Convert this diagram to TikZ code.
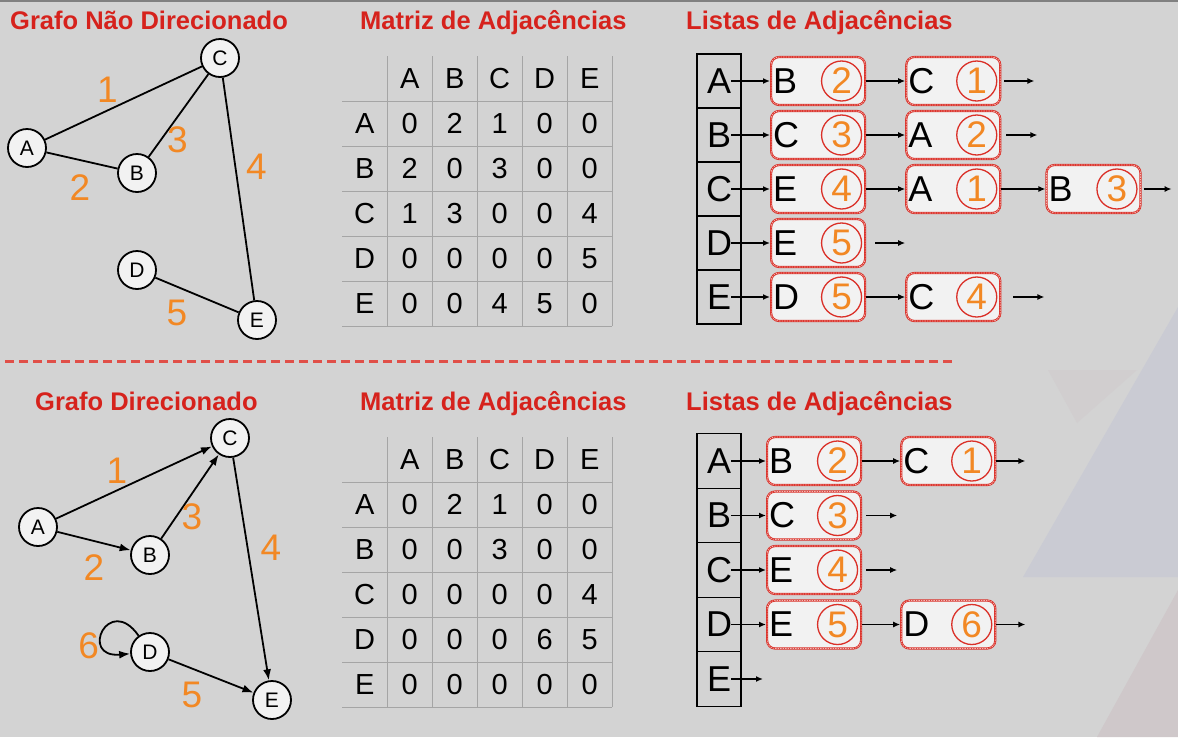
\documentclass[tikz,border=0pt]{standalone}
\usepackage{fontspec}
\setmainfont{Liberation Sans}
\usetikzlibrary{positioning,arrows.meta,matrix}

\definecolor{titlered}{RGB}{214,34,28}
\definecolor{numorange}{RGB}{242,136,36}
\definecolor{slidegray}{RGB}{211,211,211}
\definecolor{boxred}{RGB}{218,48,40}
\definecolor{gridgray}{RGB}{165,165,165}
\definecolor{nodefill}{RGB}{242,242,242}
\definecolor{decoblue}{RGB}{202,203,211}
\definecolor{decopink}{RGB}{207,200,202}

\begin{document}
\begin{tikzpicture}[x=1pt,y=-1pt,
    vertex/.style={circle,draw,line width=1.8pt,fill=nodefill,minimum size=38pt,inner sep=0pt,font=\fontsize{21}{21}\selectfont},
    wlabel/.style={text=numorange,font=\fontsize{37}{37}\selectfont},
    heading/.style={text=titlered,font=\bfseries\fontsize{25.5}{25.5}\selectfont,anchor=base west,inner sep=0pt},
    mcell/.style={minimum width=45pt,minimum height=45pt,inner sep=0pt,anchor=center,font=\fontsize{29}{29}\selectfont},
    gridline/.style={draw=gridgray,line width=1pt},
    headbox/.style={draw,line width=1.4pt,minimum width=44pt,minimum height=54pt,inner sep=0pt,outer sep=0pt,font=\fontsize{36}{36}\selectfont},
    listbox/.style={rounded corners=8pt,fill=nodefill,draw=boxred,line width=2.2pt,minimum height=48pt,
                    text width=90pt,inner xsep=2pt,inner ysep=0pt,align=left,font=\fontsize{36}{36}\selectfont,
                    postaction={draw=boxred!35!white,line width=0.7pt,dash pattern=on 1.5pt off 1pt}},
    numcirc/.style={circle,draw=boxred,line width=1.3pt,minimum size=40pt,inner sep=0pt,text=numorange,font=\fontsize{37}{37}\selectfont},
    garr/.style={-{Latex[length=11pt,width=8pt]},line width=1.8pt},
    larr/.style={-{Latex[length=7pt,width=6pt]},line width=1.5pt}]

  % slide background
  \useasboundingbox (0,0) rectangle (1178,737);
  \fill[slidegray] (0,0) rectangle (1178,737);
  \fill[gray] (0,0) rectangle (1178,2);
  \fill[decoblue] (1023,577) -- (1178,307) -- (1178,577) -- cycle;
  \fill[decopink!50!slidegray] (1048,370) -- (1137,370) -- (1077,423) -- cycle;
  \fill[decopink] (1097,737) -- (1178,590) -- (1178,737) -- cycle;

  % headings
  \node[heading] (t1) at (10,29) {Grafo Não Direcionado};
  \node[heading] (t2) at (360,29) {Matriz de Adjacências};
  \node[heading] (t3) at (686,29) {Listas de Adjacências};
  \node[heading] (t4) at (35,410) {Grafo Direcionado};
  \node[heading] (t5) at (360,410) {Matriz de Adjacências};
  \node[heading] (t6) at (686,410) {Listas de Adjacências};

  \draw[boxred!85!white,line width=3pt,dash pattern=on 9pt off 5pt] (5,361) -- (955,361);

  % undirected graph
  \node[vertex] (uA) at (27,148) {A};
  \node[vertex] (uB) at (137,173) {B};
  \node[vertex] (uC) at (220,58) {C};
  \node[vertex] (uD) at (137,270) {D};
  \node[vertex] (uE) at (257,320) {E};

  \path[line width=1.8pt]
    (uA) edge node[wlabel,xshift=-16pt,yshift=13pt] {1} (uC)
         edge node[wlabel,xshift=-2pt,yshift=-27pt] {2} (uB)
    (uB) edge node[wlabel,xshift=-1pt,yshift=-24pt] {3} (uC)
    (uC) edge node[wlabel,xshift=18pt,yshift=22pt] {4} (uE)
    (uD) edge node[wlabel,xshift=-20pt,yshift=-18pt] {5} (uE);

  % directed graph
  \node[vertex] (dA) at (38,527) {A};
  \node[vertex] (dB) at (150,555) {B};
  \node[vertex] (dC) at (230,438) {C};
  \node[vertex] (dD) at (150,652) {D};
  \node[vertex] (dE) at (272,700) {E};

  \path[garr]
    (dA) edge node[wlabel,xshift=-17pt,yshift=12pt] {1} (dC)
         edge node[wlabel,xshift=0pt,yshift=-27pt] {2} (dB)
    (dB) edge node[wlabel,xshift=2pt,yshift=-20pt] {3} (dC)
    (dC) edge node[wlabel,xshift=20pt,yshift=21pt] {4} (dE)
    (dD) edge node[wlabel,xshift=-19pt,yshift=-19pt] {5} (dE)
         edge[out=125,in=185,min distance=52pt] node[wlabel,xshift=-15pt,yshift=-15pt] {6} (dD);

  % adjacency matrices
  \matrix (mU) [matrix of nodes,anchor=north west,inner sep=0pt,nodes={mcell},column sep=0pt,row sep=0pt] at (342,56) {
      & A & B & C & D & E \\
    A & 0 & 2 & 1 & 0 & 0 \\
    B & 2 & 0 & 3 & 0 & 0 \\
    C & 1 & 3 & 0 & 0 & 4 \\
    D & 0 & 0 & 0 & 0 & 5 \\
    E & 0 & 0 & 4 & 5 & 0 \\
  };
  \matrix (mD) [matrix of nodes,anchor=north west,inner sep=0pt,nodes={mcell},column sep=0pt,row sep=0pt] at (342,437) {
      & A & B & C & D & E \\
    A & 0 & 2 & 1 & 0 & 0 \\
    B & 0 & 0 & 3 & 0 & 0 \\
    C & 0 & 0 & 0 & 0 & 4 \\
    D & 0 & 0 & 0 & 6 & 5 \\
    E & 0 & 0 & 0 & 0 & 0 \\
  };
  \foreach \k in {0,...,5} {
    \draw[gridline] (387+45*\k,56) -- (387+45*\k,326);
    \draw[gridline] (342,101+45*\k) -- (612,101+45*\k);
    \draw[gridline] (387+45*\k,437) -- (387+45*\k,707);
    \draw[gridline] (342,482+45*\k) -- (612,482+45*\k);
  }

  % adjacency lists, undirected
  \node[headbox] (uhA) at (719,81) {A};
  \node[headbox,below=0pt of uhA] (uhB) {B};
  \node[headbox,below=0pt of uhB] (uhC) {C};
  \node[headbox,below=0pt of uhC] (uhD) {D};
  \node[headbox,below=0pt of uhD] (uhE) {E};

  \node[listbox,right=29pt of uhA] (ueA1) {B};
  \node[numcirc,left=4pt of ueA1.east] (unA1) {2};
  \node[listbox,right=39pt of ueA1] (ueA2) {C};
  \node[numcirc,left=4pt of ueA2.east] (unA2) {1};

  \node[listbox,right=29pt of uhB] (ueB1) {C};
  \node[numcirc,left=4pt of ueB1.east] (unB1) {3};
  \node[listbox,right=39pt of ueB1] (ueB2) {A};
  \node[numcirc,left=4pt of ueB2.east] (unB2) {2};

  \node[listbox,right=29pt of uhC] (ueC1) {E};
  \node[numcirc,left=4pt of ueC1.east] (unC1) {4};
  \node[listbox,right=39pt of ueC1] (ueC2) {A};
  \node[numcirc,left=4pt of ueC2.east] (unC2) {1};
  \node[listbox,right=44pt of ueC2] (ueC3) {B};
  \node[numcirc,left=4pt of ueC3.east] (unC3) {3};

  \node[listbox,right=29pt of uhD] (ueD1) {E};
  \node[numcirc,left=4pt of ueD1.east] (unD1) {5};

  \node[listbox,right=29pt of uhE] (ueE1) {D};
  \node[numcirc,left=4pt of ueE1.east] (unE1) {5};
  \node[listbox,right=39pt of ueE1] (ueE2) {C};
  \node[numcirc,left=4pt of ueE2.east] (unE2) {4};

  \coordinate[right=33pt of ueA2] (utA);
  \coordinate[right=36pt of ueB2] (utB);
  \coordinate[right=30pt of ueC3] (utC);
  \coordinate[right=39pt of ueD1] (utD);
  \coordinate[right=43pt of ueE2] (utE);

  \draw[larr,shorten <=12pt] (uhA.center) -- (ueA1);
  \draw[larr,shorten <=12pt] (uhB.center) -- (ueB1);
  \draw[larr,shorten <=12pt] (uhC.center) -- (ueC1);
  \draw[larr,shorten <=12pt] (uhD.center) -- (ueD1);
  \draw[larr,shorten <=12pt] (uhE.center) -- (ueE1);
  \draw[larr] (ueA1) -- (ueA2);
  \draw[larr] (ueB1) -- (ueB2);
  \draw[larr] (ueC1) -- (ueC2);
  \draw[larr] (ueC2) -- (ueC3);
  \draw[larr] (ueE1) -- (ueE2);
  \draw[larr,shorten <=3pt] (ueA2) -- (utA);
  \draw[larr,shorten <=5pt] (ueB2) -- (utB);
  \draw[larr,shorten <=2pt] (ueC3) -- (utC);
  \draw[larr,shorten <=9pt] (ueD1) -- (utD);
  \draw[larr,shorten <=12pt] (ueE2) -- (utE);

  % adjacency lists, directed
  \node[headbox,minimum height=54.5pt] (dhA) at (719,461) {A};
  \node[headbox,minimum height=54.5pt,below=0pt of dhA] (dhB) {B};
  \node[headbox,minimum height=54.5pt,below=0pt of dhB] (dhC) {C};
  \node[headbox,minimum height=54.5pt,below=0pt of dhC] (dhD) {D};
  \node[headbox,minimum height=54.5pt,below=0pt of dhD] (dhE) {E};

  \node[listbox,right=25pt of dhA] (deA1) {B};
  \node[numcirc,left=4pt of deA1.east] (dnA1) {2};
  \node[listbox,right=38pt of deA1] (deA2) {C};
  \node[numcirc,left=4pt of deA2.east] (dnA2) {1};

  \node[listbox,right=25pt of dhB] (deB1) {C};
  \node[numcirc,left=4pt of deB1.east] (dnB1) {3};

  \node[listbox,right=25pt of dhC] (deC1) {E};
  \node[numcirc,left=4pt of deC1.east] (dnC1) {4};

  \node[listbox,right=25pt of dhD] (deD1) {E};
  \node[numcirc,left=4pt of deD1.east] (dnD1) {5};
  \node[listbox,right=38pt of deD1] (deD2) {D};
  \node[numcirc,left=4pt of deD2.east] (dnD2) {6};

  \coordinate[right=29pt of deA2] (dtA);
  \coordinate[right=35pt of deB1] (dtB);
  \coordinate[right=35pt of deC1] (dtC);
  \coordinate[right=29pt of deD2] (dtD);
  \coordinate[right=22pt of dhE] (dtE);

  \draw[larr,shorten <=12pt] (dhA.center) -- (deA1);
  \draw[larr,shorten <=12pt] (dhB.center) -- (deB1);
  \draw[larr,shorten <=12pt] (dhC.center) -- (deC1);
  \draw[larr,shorten <=12pt] (dhD.center) -- (deD1);
  \draw[larr,shorten <=12pt] (dhE.center) -- (dtE);
  \draw[larr] (deA1) -- (deA2);
  \draw[larr] (deD1) -- (deD2);
  \draw[larr] (deA2) -- (dtA);
  \draw[larr,shorten <=4pt] (deB1) -- (dtB);
  \draw[larr,shorten <=4pt] (deC1) -- (dtC);
  \draw[larr] (deD2) -- (dtD);

\end{tikzpicture}
\end{document}
